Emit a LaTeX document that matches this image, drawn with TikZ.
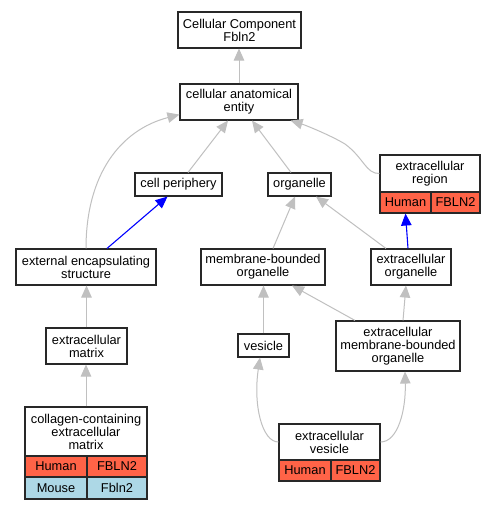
\documentclass[tikz,border=0pt]{standalone}
\usepackage{fontspec}
\setmainfont{Liberation Sans}
\usetikzlibrary{arrows.meta}
\definecolor{edgegray}{RGB}{192,192,192}
\definecolor{tomato}{RGB}{255,99,71}
\definecolor{lblue}{RGB}{173,216,230}
\definecolor{border}{RGB}{40,40,40}
\begin{document}
\begin{tikzpicture}[x=1pt,y=-1pt,
  box/.style={draw=border,line width=1.1pt,fill=white,inner sep=0pt,align=center,font=\fontsize{12.8}{13}\selectfont},
  cellr/.style={box,fill=tomato},
  cellb/.style={box,fill=lblue},
  edge/.style={draw=edgegray,line width=1pt,-{Triangle[length=12pt,width=10.5pt]}},
  bedge/.style={draw=blue,line width=1.1pt,-{Triangle[length=12pt,width=10.5pt]}}]
\useasboundingbox (0,0) rectangle (495,509);
\fill[white] (0,0) rectangle (495,509);

% plain nodes
\node[box,minimum width=123pt,minimum height=36pt] (top) at (239.5,30) {Cellular Component\\Fbln2};
\node[box,minimum width=118pt,minimum height=36pt] (anat) at (239,102) {cellular anatomical\\entity};
\node[box,minimum width=87pt,minimum height=23pt] (cp) at (178.5,184.5) {cell periphery};
\node[box,minimum width=63pt,minimum height=23pt] (org) at (299.5,184.5) {organelle};
\node[box,minimum width=140pt,minimum height=36pt] (ees) at (86,267) {external encapsulating\\structure};
\node[box,minimum width=124pt,minimum height=36pt] (mbo) at (263,267) {membrane-bounded\\organelle};
\node[box,minimum width=80pt,minimum height=36pt] (eo) at (411,267) {extracellular\\organelle};
\node[box,minimum width=81pt,minimum height=36pt] (em) at (86.5,346) {extracellular\\matrix};
\node[box,minimum width=51pt,minimum height=23pt] (ves) at (263.5,345.5) {vesicle};
\node[box,minimum width=124pt,minimum height=50pt] (emb) at (398,346) {extracellular\\membrane-bounded\\organelle};

% extracellular region (table)
\node[box,minimum width=100pt,minimum height=37pt] (er) at (430,173.5) {extracellular\\region};
\node[cellr,minimum width=51pt,minimum height=21pt] (erhu) at (405.5,202.5) {Human};
\node[cellr,minimum width=49pt,minimum height=21pt] (ergn) at (455.5,202.5) {FBLN2};

% collagen-containing extracellular matrix (table)
\node[box,minimum width=122pt,minimum height=49pt] (col) at (86,431.5) {collagen-containing\\extracellular\\matrix};
\node[cellr,minimum width=62pt,minimum height=21pt] (colhu) at (56,466.5) {Human};
\node[cellr,minimum width=60pt,minimum height=21pt] (colhg) at (117,466.5) {FBLN2};
\node[cellb,minimum width=62pt,minimum height=22pt] (colmo) at (56,488) {Mouse};
\node[cellb,minimum width=60pt,minimum height=22pt] (colmg) at (117,488) {Fbln2};

% extracellular vesicle (table)
\node[box,minimum width=101pt,minimum height=36pt] (ev) at (329.5,442) {extracellular\\vesicle};
\node[cellr,minimum width=52pt,minimum height=21pt] (evhu) at (305,470.5) {Human};
\node[cellr,minimum width=49pt,minimum height=21pt] (evgn) at (355.5,470.5) {FBLN2};

% edges
\draw[edge] (anat.north) -- (anat.north |- top.south);
\draw[edge] ([xshift=9.5pt]cp.north) -- ([xshift=-11pt]anat.south);
\draw[edge] ([xshift=-8.5pt]org.north) -- ([xshift=13pt]anat.south);
\draw[edge] (er.west) .. controls (366,174) and (364,158) .. (345,144) .. controls (330,135) and (305,125) .. ([xshift=-8pt]anat.south east);
\draw[edge] (ees.north) .. controls (86,175) and (120,130) .. ([yshift=6pt]anat.south west);
\draw[bedge] ([xshift=21pt]ees.north) -- ([xshift=-11pt]cp.south);
\draw[edge] ([xshift=10pt]mbo.north) -- ([xshift=-4.5pt]org.south);
\draw[edge] ([xshift=-25pt]eo.north) -- ([xshift=16.5pt]org.south);
\draw[bedge] ([xshift=-3pt]eo.north) -- (erhu.south);
\draw[edge] (em.north) -- (ees.south -| em.north);
\draw[edge] (ves.north) -- (mbo.south -| ves.north);
\draw[edge] ([xshift=-43pt]emb.north) -- ([xshift=29pt]mbo.south);
\draw[edge] ([xshift=5pt]emb.north) -- ([xshift=-5pt]eo.south);
\draw[edge] (col.north) -- (em.south -| col.north);
\draw[edge] (ev.west) .. controls (262,442) and (253,405) .. ([xshift=-3.5pt]ves.south);
\draw[edge] (ev.east) .. controls (398,442) and (406,410) .. ([xshift=7pt]emb.south);
\end{tikzpicture}
\end{document}
